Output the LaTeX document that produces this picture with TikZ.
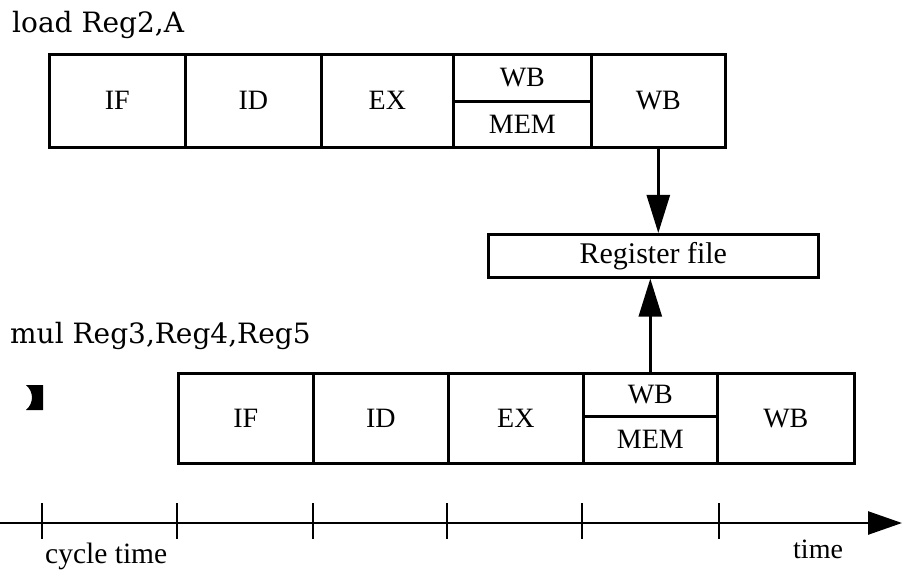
\documentclass[tikz,border=0pt]{standalone}
\usepackage{fontspec}
\setmainfont{Liberation Serif}
\newfontfamily\instrfont{DejaVu Serif}
\usetikzlibrary{arrows.meta}
\begin{document}
\begin{tikzpicture}[x=1pt,y=-1pt,
  stage/.style={draw,line width=2.6pt,inner sep=0pt,anchor=north west,
    font=\fontsize{28}{30}\selectfont},
  instr/.style={anchor=base west,inner sep=0pt,font=\instrfont\fontsize{28}{30}\selectfont},
  lbl/.style={anchor=base west,inner sep=0pt,font=\fontsize{28}{30}\selectfont},
  feed/.style={line width=2.6pt,-{Triangle[length=38pt,width=23pt]}},
  axisline/.style={line width=2.6pt,-{Triangle[length=34pt,width=23pt]}},
  tick/.style={line width=2.6pt}]
\useasboundingbox (0,0) rectangle (902,572);

% instruction labels
\node[instr] (ld) at (12,33) {load Reg2,A};
\node[instr] (ml) at (10,343) {mul Reg3,Reg4,Reg5};

% top pipeline
\node[stage,minimum width=136pt,minimum height=93pt] (if1) at (48,53) {IF};
\node[stage,minimum width=136pt,minimum height=93pt] (id1) at (184,53) {ID};
\node[stage,minimum width=132pt,minimum height=93pt] (ex1) at (320,53) {EX};
\node[stage,minimum width=138pt,minimum height=47pt] (wbt1) at (452,53) {WB};
\node[stage,minimum width=138pt,minimum height=46pt] (mem1) at (452,100) {MEM};
\node[stage,minimum width=134pt,minimum height=93pt] (wb1) at (590,53) {WB};

% register file
\node[stage,minimum width=330pt,minimum height=43pt,font=\fontsize{30}{32}\selectfont] (reg) at (487,233) {Register file};

% bottom pipeline
\node[stage,minimum width=135pt,minimum height=90pt] (if2) at (177,372) {IF};
\node[stage,minimum width=135pt,minimum height=90pt] (id2) at (312,372) {ID};
\node[stage,minimum width=135pt,minimum height=90pt] (ex2) at (447,372) {EX};
\node[stage,minimum width=134pt,minimum height=43pt] (wbt2) at (582,372) {WB};
\node[stage,minimum width=134pt,minimum height=47pt] (mem2) at (582,415) {MEM};
\node[stage,minimum width=137pt,minimum height=90pt] (wb2) at (716,372) {WB};

% connectors
\draw[feed] (wb1.south) -- (wb1.south |- reg.north);
\draw[feed] (wbt2.north) -- (wbt2.north |- reg.south);

% mark
\fill (26,385) -- (43,385) -- (43,410) -- (26,410) .. controls (34,403) and (34,392) .. (26,385);

% time axis
\coordinate (a0) at (0,523);
\coordinate (a1) at (902,523);
\draw[axisline] (a0) -- (a1);
\foreach \x in {42,177,313,447,582,719}{
  \draw[tick] (\x,503) -- (\x,539);
}
\node[lbl,font=\fontsize{29.5}{31}\selectfont] (ct) at (45,563) {cycle time};
\node[lbl] (tm) at (793,558) {time};
\end{tikzpicture}
\end{document}
